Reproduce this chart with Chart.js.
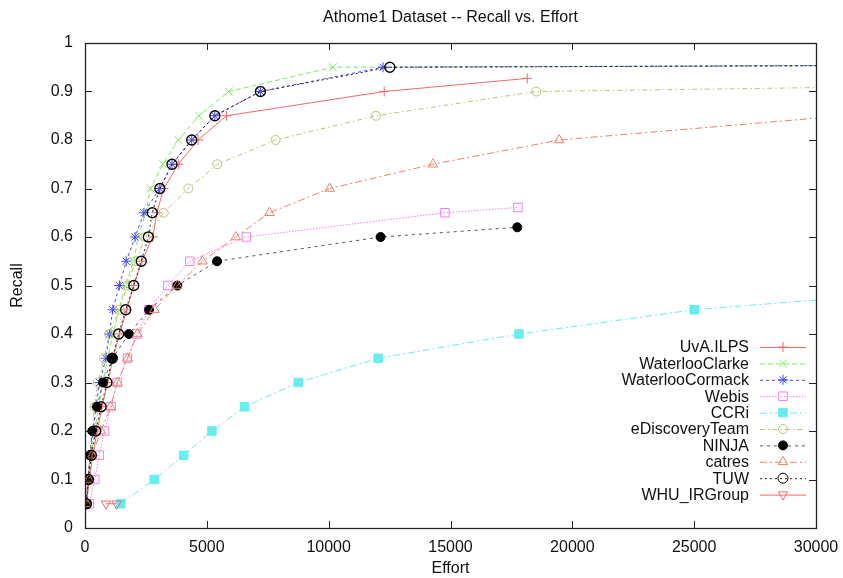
<!DOCTYPE html>
<html>
<head>
<meta charset="utf-8">
<title>Athome1 Dataset -- Recall vs. Effort</title>
<script src="https://cdn.jsdelivr.net/npm/chart.js@4.4.1/dist/chart.umd.min.js"></script>
<style>
  html, body { margin: 0; padding: 0; background: #fff; }
</style>
</head>
<body>
<canvas id="recallChart" width="843" height="578"></canvas>
<script>
const FONT = '"Liberation Sans", Arial, Helvetica, sans-serif';

const xTickValues = [0, 5000, 10000, 15000, 20000, 25000, 30000];
const xTickLabels = ['0', '5000', '10000', '15000', '20000', '25000', '30000'];
const yTickValues = [0, 0.1, 0.2, 0.3, 0.4, 0.5, 0.6, 0.7, 0.8, 0.9, 1];
const yTickLabels = ['0', '0.1', '0.2', '0.3', '0.4', '0.5', '0.6', '0.7', '0.8', '0.9', '1'];

// recall levels 0.05 .. 0.95
const levels19 = [0.05, 0.1, 0.15, 0.2, 0.25, 0.3, 0.35, 0.4, 0.45, 0.5,
  0.55, 0.6, 0.65, 0.7, 0.75, 0.8, 0.85, 0.9, 0.95];

const uvaRecall = [...levels19.slice(0, 18), 0.927];
const uvaEffort = [60, 180, 320, 500, 700, 930, 1150, 1420, 1720, 2000,
  2330, 2780, 2950, 3230, 3830, 4640, 5810, 12280, 18150];

const clarkeRecall = [...levels19, 1.0];
const clarkeEffort = [60, 150, 270, 400, 560, 740, 930, 1150, 1400, 1650,
  2000, 2180, 2490, 2690, 3200, 3830, 4680, 5900, 10170, 290099];

const cormackRecall = [...levels19, 1.0];
const cormackEffort = [50, 120, 220, 330, 450, 600, 860, 1000, 1140, 1410,
  1690, 2055, 2420, 3070, 3570, 4380, 5330, 7200, 12230, 290099];

const webisRecall = [...levels19.slice(0, 13), 0.661];
const webisEffort = [180, 400, 580, 800, 1070, 1320, 1740, 2120, 2610, 3400,
  4300, 6620, 14770, 17770];

const ccriRecall = levels19.slice(0, 10);
const ccriEffort = [1470, 2840, 4050, 5210, 6550, 8750, 12030, 17810, 25000, 37500];

const ediscRecall = levels19.slice(0, 19);
const ediscEffort = [40, 120, 200, 300, 390, 530, 780, 1000, 1420, 1740,
  2070, 2480, 3230, 4240, 5430, 7820, 11940, 18520, 90000];

const ninjaRecall = [...levels19.slice(0, 12), 0.62];
const ninjaEffort = [40, 130, 200, 300, 490, 740, 1130, 1800, 2630, 3790,
  5420, 12130, 17740];

const catresRecall = levels19.slice(0, 17);
const catresEffort = [70, 160, 290, 650, 1050, 1330, 1750, 2150, 2850, 3790,
  4820, 6190, 7570, 10040, 14280, 19460, 31170];

const tuwRecall = [...levels19, 1.0];
const tuwEffort = [60, 140, 260, 440, 660, 900, 1120, 1380, 1670, 2000,
  2310, 2600, 2760, 3070, 3570, 4380, 5330, 7200, 12510, 290099];

const whuRecall = [0.05, 0.05];
const whuEffort = [860, 1300];

function points(xs, ys) {
  return xs.map((x, i) => ({ x, y: ys[i] }));
}

function series(label, xs, ys, color, dash, marker) {
  const markColor = marker.color || color;
  return {
    label,
    data: points(xs, ys),
    showLine: true,
    borderColor: color,
    borderWidth: 1,
    borderDash: dash,
    pointStyle: marker.style,
    pointRadius: marker.radius,
    pointHoverRadius: marker.radius,
    pointRotation: marker.rotation || 0,
    pointBorderColor: markColor,
    pointBorderWidth: marker.width || 1,
    pointBackgroundColor: marker.filled ? markColor : 'rgba(0,0,0,0)',
    backgroundColor: marker.filled ? markColor : 'rgba(0,0,0,0)',
    fill: false,
    tension: 0,
  };
}

const datasets = [
  series('UvA.ILPS', uvaEffort, uvaRecall, '#f06a6a', [], { style: 'cross', radius: 5 }),
  series('WaterlooClarke', clarkeEffort, clarkeRecall, '#7fe85a', [5, 3], { style: 'crossRot', radius: 5.5 }),
  series('WaterlooCormack', cormackEffort, cormackRecall, '#4444ee', [3, 3], { style: 'star', radius: 5 }),
  series('Webis', webisEffort, webisRecall, '#ee82ee', [1.5, 1.5], { style: 'rect', radius: 6 }),
  series('CCRi', ccriEffort, ccriRecall, '#66eeee', [7, 3, 2, 3], { style: 'rect', radius: 6, filled: true }),
  series('eDiscoveryTeam', ediscEffort, ediscRecall, '#bcc272', [5, 3, 1.5, 3], { style: 'circle', radius: 4.5 }),
  series('NINJA', ninjaEffort, ninjaRecall, '#555555', [3, 4], { style: 'circle', radius: 4.5, filled: true, color: '#000' }),
  series('catres', catresEffort, catresRecall, '#f08266', [7, 3, 2, 3], { style: 'triangle', radius: 5.5 }),
  series('TUW', tuwEffort, tuwRecall, '#222222', [2, 3], { style: 'circle', radius: 5, color: '#000', width: 1.3 }),
  series('WHU_IRGroup', whuEffort, whuRecall, '#f06a6a', [], { style: 'triangle', radius: 5.5, rotation: 180 }),
];
// later series are drawn on top, like the original plot
datasets.forEach((d, i) => { d.order = datasets.length - i; });

const framePlugin = {
  id: 'frame',
  afterDatasetsDraw(chart) {
    const { ctx, chartArea: a, scales: { x, y } } = chart;
    ctx.save();
    ctx.strokeStyle = '#222';
    ctx.lineWidth = 1;
    ctx.setLineDash([]);
    ctx.beginPath();
    xTickValues.forEach(v => {
      const px = Math.round(x.getPixelForValue(v)) + 0.5;
      ctx.moveTo(px, a.bottom); ctx.lineTo(px, a.bottom - 7);
      ctx.moveTo(px, a.top); ctx.lineTo(px, a.top + 7);
    });
    yTickValues.forEach(v => {
      const py = Math.round(y.getPixelForValue(v)) + 0.5;
      ctx.moveTo(a.left, py); ctx.lineTo(a.left + 7, py);
      ctx.moveTo(a.right, py); ctx.lineTo(a.right - 7, py);
    });
    ctx.stroke();
    ctx.lineWidth = 1.3;
    ctx.strokeRect(Math.round(a.left) + 0.5, Math.round(a.top) + 0.5,
      Math.round(a.right - a.left), Math.round(a.bottom - a.top));
    ctx.restore();
  }
};

const keyPlugin = {
  id: 'key',
  afterDatasetsDraw(chart) {
    const { ctx, chartArea: a } = chart;
    const textRight = a.right - 67;
    const lineLeft = a.right - 56;
    const lineRight = a.right - 10;
    const markX = (lineLeft + lineRight) / 2;
    const top = 347;
    const step = 16.4;
    ctx.save();
    ctx.font = '16px ' + FONT;
    ctx.textAlign = 'right';
    ctx.textBaseline = 'middle';
    chart.data.datasets.forEach((ds, i) => {
      const yy = top + i * step;
      ctx.fillStyle = '#111';
      ctx.fillText(ds.label, textRight, yy + 1);
      ctx.strokeStyle = ds.borderColor;
      ctx.lineWidth = 1;
      ctx.setLineDash(ds.borderDash);
      ctx.beginPath();
      ctx.moveTo(lineLeft, yy + 0.5);
      ctx.lineTo(lineRight, yy + 0.5);
      ctx.stroke();
      ctx.setLineDash([]);
      ctx.fillStyle = ds.pointBackgroundColor;
      ctx.strokeStyle = ds.pointBorderColor;
      Chart.helpers.drawPoint(ctx, {
        pointStyle: ds.pointStyle,
        radius: ds.pointRadius,
        rotation: ds.pointRotation,
        borderWidth: ds.pointBorderWidth,
      }, markX, yy);
    });
    ctx.restore();
  }
};

new Chart(document.getElementById('recallChart').getContext('2d'), {
  type: 'scatter',
  data: { datasets },
  plugins: [framePlugin, keyPlugin],
  options: {
    responsive: false,
    animation: false,
    layout: { padding: { left: 0, right: 27, top: 0, bottom: 0 } },
    plugins: {
      legend: { display: false },
      tooltip: { enabled: false },
      title: {
        display: true,
        fullSize: false,
        text: 'Athome1 Dataset -- Recall vs. Effort',
        color: '#111',
        font: { family: FONT, size: 16, weight: 'normal' },
        padding: { top: 8, bottom: 15.8 },
      },
    },
    scales: {
      x: {
        type: 'linear',
        min: 0,
        max: 30000,
        afterFit: s => { s.height = 50; s.paddingLeft = 0; s.paddingRight = 0; },
        afterBuildTicks: s => { s.ticks = xTickValues.map(v => ({ value: v })); },
        ticks: {
          padding: 10,
          autoSkip: false,
          maxRotation: 0,
          color: '#111',
          font: { family: FONT, size: 16 },
          callback: v => xTickLabels[xTickValues.indexOf(v)],
        },
        grid: { display: false, drawTicks: false },
        border: { display: false },
        title: {
          display: true,
          text: 'Effort',
          color: '#111',
          font: { family: FONT, size: 16 },
          padding: { top: 0, bottom: 0 },
        },
      },
      y: {
        type: 'linear',
        min: 0,
        max: 1,
        afterFit: s => { s.width = 85; },
        afterBuildTicks: s => { s.ticks = yTickValues.map(v => ({ value: v })); },
        ticks: {
          padding: 12,
          autoSkip: false,
          color: '#111',
          font: { family: FONT, size: 16 },
          callback: v => yTickLabels[yTickValues.indexOf(v)],
        },
        grid: { display: false, drawTicks: false },
        border: { display: false },
        title: {
          display: true,
          text: 'Recall',
          color: '#111',
          font: { family: FONT, size: 16 },
          padding: { top: 8, bottom: 0 },
        },
      },
    },
  },
});
</script>
</body>
</html>
